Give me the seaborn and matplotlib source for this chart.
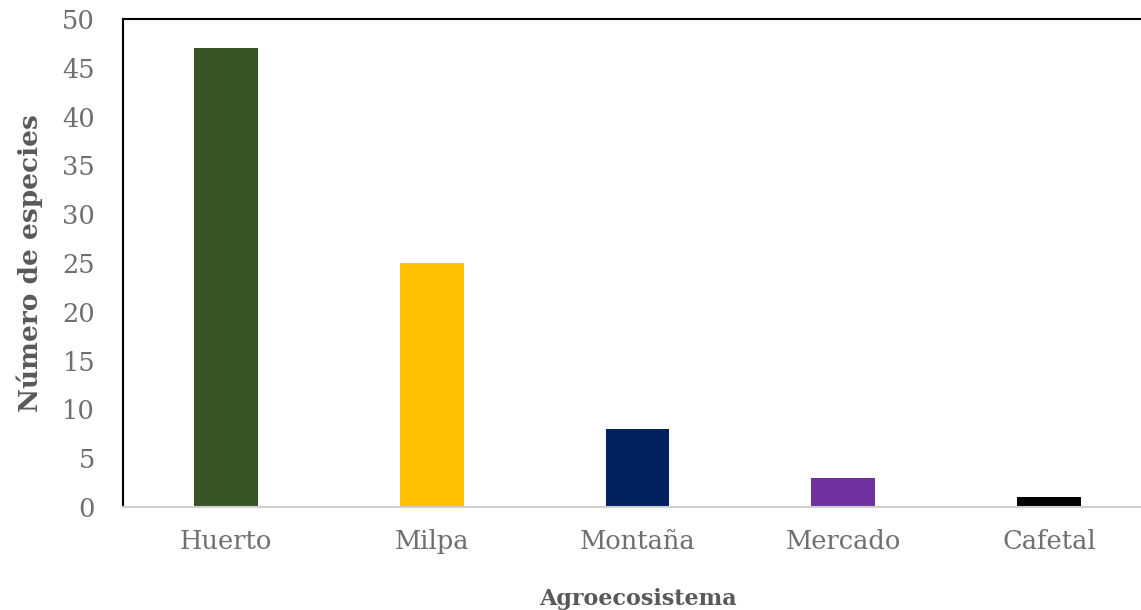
import matplotlib
matplotlib.use("Agg")
import matplotlib.pyplot as plt
import seaborn as sns
import pandas as pd

categories = ["Huerto", "Milpa", "Montaña", "Mercado", "Cafetal"]
species_counts = [47, 25, 8, 3, 1]
bar_colors = ["#375623", "#FFC000", "#002060", "#7030A0", "#000000"]
y_ticks = [0, 5, 10, 15, 20, 25, 30, 35, 40, 45, 50]

sns.set_theme(style="white")
plt.rcParams["font.family"] = ["DejaVu Serif"]

df = pd.DataFrame({"Agroecosistema": categories, "Especies": species_counts})

fig = plt.figure(figsize=(11.41, 6.10), dpi=100)
ax = fig.add_axes([0.1078, 0.1689, 0.9018, 0.80])

sns.barplot(data=df, x="Agroecosistema", y="Especies", hue="Agroecosistema",
            palette=bar_colors, width=0.31, legend=False, ax=ax,
            saturation=1, edgecolor="none")

ax.set_xlim(-0.5, 4.5)
ax.set_ylim(0, 50)
ax.set_yticks(y_ticks)
ax.set_yticklabels([str(t) for t in y_ticks])

tick_color = "#6f6f6f"
ax.tick_params(axis="both", length=0, labelsize=18.5, colors=tick_color)
ax.tick_params(axis="x", pad=16)
ax.tick_params(axis="y", pad=20)

for side in ["top", "left"]:
    ax.spines[side].set_color("#000000")
    ax.spines[side].set_linewidth(1.5)
ax.spines["right"].set_visible(False)
ax.spines["bottom"].set_color("#d0d0d0")
ax.spines["bottom"].set_linewidth(1.5)

ax.set_ylabel("Número de especies", fontsize=19, fontweight="bold",
              color="#595959", labelpad=14)
ax.set_xlabel("Agroecosistema", fontsize=16, fontweight="bold",
              color="#595959", labelpad=24)

fig.savefig("out.png", dpi=100)
